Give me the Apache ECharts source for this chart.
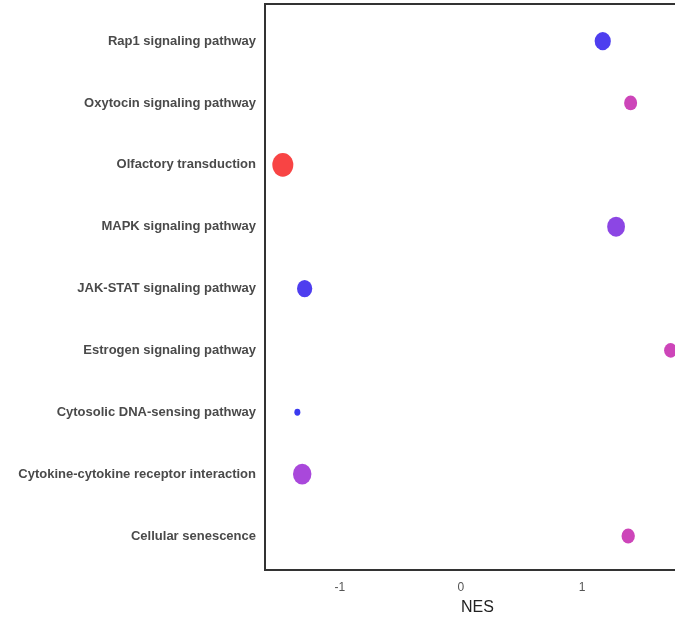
<!DOCTYPE html>
<html>
<head>
<meta charset="utf-8">
<title>GSEA KEGG pathways</title>
<script src="https://cdn.jsdelivr.net/npm/echarts@6/dist/echarts.min.js"></script>
<style>
  html, body { margin: 0; padding: 0; background: #fff; }
  #chart { width: 675px; height: 621px; }
</style>
</head>
<body>
<div id="chart"></div>
<script>
// Enriched KEGG pathways, listed top to bottom
const pathways = [
  'Rap1 signaling pathway',
  'Oxytocin signaling pathway',
  'Olfactory transduction',
  'MAPK signaling pathway',
  'JAK-STAT signaling pathway',
  'Estrogen signaling pathway',
  'Cytosolic DNA-sensing pathway',
  'Cytokine-cytokine receptor interaction',
  'Cellular senescence'
];
// Normalized enrichment score
const nes = [1.17, 1.40, -1.47, 1.28, -1.29, 1.73, -1.35, -1.31, 1.38];
// Core gene count (dot size)
const geneCount = [40, 30, 55, 45, 37, 30, 8, 47, 31];
// Adjusted p-value (dot colour)
const padj = [0.045, 0.013, 0.001, 0.031, 0.045, 0.013, 0.05, 0.025, 0.013];
// NES tick labels
const nesTicks = [-1, 0, 1];

const countMin = Math.min(...geneCount), countMax = Math.max(...geneCount);
const sizeScale = c => 6 + (c - countMin) / (countMax - countMin) * 15;

const chart = echarts.init(document.getElementById('chart'), null, { renderer: 'canvas' });

const points = pathways.map((p, i) => [nes[i], i, geneCount[i], padj[i], p]);

chart.setOption({
  backgroundColor: '#ffffff',
  animation: false,
  grid: {
    left: 265, top: 4, width: 425, height: 566,
    outerBoundsMode: 'none',
    containLabel: false,
    show: true, borderColor: '#333333', borderWidth: 2, backgroundColor: 'transparent'
  },
  xAxis: {
    type: 'value',
    min: -1.617, max: 1.89,
    name: 'NES', nameLocation: 'middle', nameGap: 30,
    nameTextStyle: { fontSize: 16, color: '#222', fontFamily: 'Liberation Sans' },
    axisLine: { show: false },
    axisTick: { show: false },
    splitLine: { show: false },
    axisLabel: {
      customValues: nesTicks,
      margin: 12, fontSize: 12, color: '#555', fontFamily: 'Liberation Sans'
    }
  },
  yAxis: {
    type: 'value',
    inverse: true,
    min: -0.6, max: 8.55,
    axisLine: { show: false },
    axisTick: { show: false },
    splitLine: { show: false },
    axisLabel: {
      customValues: pathways.map((_, i) => i),
      formatter: v => pathways[Math.round(v)],
      margin: 9, fontSize: 13, fontWeight: 'bold', color: '#4a4a4a',
      fontFamily: 'Liberation Sans'
    }
  },
  visualMap: {
    show: false,
    type: 'continuous',
    dimension: 3,
    seriesIndex: 0,
    min: 0.001, max: 0.05,
    inRange: { color: ['#f84444', '#cc45bb', '#a848dc', '#6a44ee', '#3a3af0'] }
  },
  series: [{
    type: 'scatter',
    data: points,
    symbol: 'circle',
    symbolSize: d => { const s = sizeScale(d[2]); return [s, s * 1.13]; },
    itemStyle: { opacity: 1 },
    emphasis: { disabled: true }
  }]
});
</script>
</body>
</html>
